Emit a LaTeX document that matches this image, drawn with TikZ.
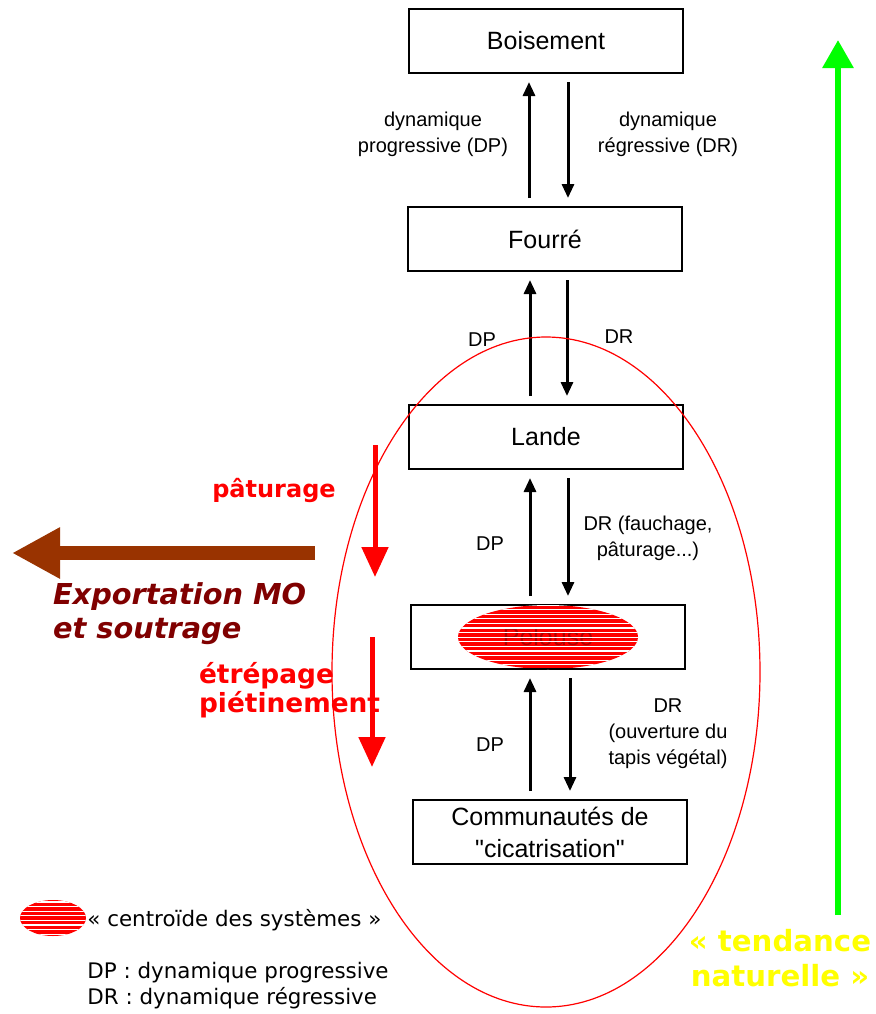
\documentclass[tikz,border=0pt]{standalone}
\usepackage{fontspec}
\setmainfont{Liberation Sans}[Ligatures=TeXOff]
\newfontfamily\verdana{DejaVu Sans}
\usetikzlibrary{arrows.meta}

\definecolor{brique}{RGB}{153,51,0}
\definecolor{bordeaux}{RGB}{128,0,0}
\definecolor{vertvif}{RGB}{0,255,0}
\definecolor{jaunevif}{RGB}{255,255,0}

\tikzset{
  stade/.style={draw, line width=1pt, minimum width=137pt, minimum height=32pt,
    inner sep=0pt, align=center, font=\fontsize{12.5}{16}\selectfont},
  dyn/.style={-{Triangle[length=7pt,width=6pt]}, line width=1.5pt,
    shorten >=4pt, shorten <=4pt},
  etiq/.style={align=center, font=\fontsize{10}{13}\selectfont},
  pression/.style={red, line width=2.5pt, -{Triangle[length=15pt,width=13pt]}},
  fleche rouge/.style={text=red, font=\verdana\bfseries\fontsize{12}{14.5}\selectfont},
}

\begin{document}
\begin{tikzpicture}[x=0.5pt, y=-0.5pt]
		\useasboundingbox (0,0) rectangle (876,1014);

		% stades de la succession
		\node[stade] (boise) at (546,41) {Boisement};
		\node[stade] (fourre) at (545,239) {Fourré};
		\node[stade] (lande) at (546,437) {Lande};
		\fill[red] (548,637) ellipse [x radius=45pt, y radius=16pt];
		\node[stade, text=red!70!black] (pelouse) at (548,637) {Pelouse};
		\begin{scope}
			\clip (548,637) ellipse [x radius=45pt, y radius=16pt];
			\foreach \k in {0,...,14}
				\draw[white, line width=0.6pt] (450,{605+\k*4.6}) -- (650,{605+\k*4.6});
		\end{scope}
		\node[stade] (commun) at (550,832) {Communautés de\\"cicatrisation"};

		% dynamiques
		\draw[dyn] ([xshift=-8pt]fourre.north) -- ([xshift=-8pt]fourre.north |- boise.south);
		\draw[dyn] ([xshift=11pt]boise.south) -- ([xshift=11pt]boise.south |- fourre.north);
		\draw[dyn] ([xshift=-8pt]lande.north) -- ([xshift=-8pt]lande.north |- fourre.south);
		\draw[dyn] ([xshift=11pt]fourre.south) -- ([xshift=11pt]fourre.south |- lande.north);
		\draw[dyn] ([xshift=-9pt]pelouse.north) -- ([xshift=-9pt]pelouse.north |- lande.south);
		\draw[dyn] ([xshift=11pt]lande.south) -- ([xshift=11pt]lande.south |- pelouse.north);
		\draw[dyn] ([xshift=-10pt]commun.north) -- ([xshift=-10pt]commun.north |- pelouse.south);
		\draw[dyn] ([xshift=11pt]pelouse.south) -- ([xshift=11pt]pelouse.south |- commun.north);

		\node[etiq] (dp1) at (433,134) {dynamique\\progressive (DP)};
		\node[etiq] (dr1) at (668,134) {dynamique\\régressive (DR)};
		\node[etiq] (dp2) at (482,340) {DP};
		\node[etiq] (dr2) at (619,337) {DR};
		\node[etiq] (dp3) at (490,544) {DP};
		\node[etiq] (dr3) at (648,538) {DR (fauchage,\\pâturage...)};
		\node[etiq] (dp4) at (490,745) {DP};
		\node[etiq] (dr4) at (668,734) {DR\\(ouverture du\\tapis végétal)};

		% systeme
		\draw[red, line width=0.6pt] (546,672) ellipse [x radius=107pt, y radius=167.5pt];

		% pressions
		\coordinate (pat1) at (375,445);
		\coordinate (pat2) at (375,577);
		\coordinate (etr1) at (372,637);
		\coordinate (etr2) at (372,767);
		\draw[pression] (pat1) -- (pat2);
		\draw[pression] (etr1) -- (etr2);
		\node[fleche rouge] (paturage) at (274,490) {pâturage};
		\node[fleche rouge, anchor=west, align=left, font=\verdana\bfseries\fontsize{13.2}{14.5}\selectfont]
			(etrepage) at (192,690) {étrépage\\piétinement};

		\coordinate (exp1) at (315,553);
		\coordinate (exp2) at (12,553);
		\draw[brique, line width=7pt, -{Triangle[length=24pt,width=24pt]}] (exp1) -- (exp2);
		\node[anchor=west, align=left, text=bordeaux,
			font=\verdana\bfseries\itshape\fontsize{14.4}{17}\selectfont] (export) at (46,614)
			{Exportation MO\\et soutrage};

		% tendance naturelle
		\coordinate (tend1) at (838,915);
		\coordinate (tend2) at (838,40);
		\draw[vertvif, line width=3pt, -{Triangle[length=14pt,width=15pt]}] (tend1) -- (tend2);
		\node[align=center, text=jaunevif,
			font=\verdana\bfseries\fontsize{14.6}{17.5}\selectfont] (tendance) at (780,958)
			{« tendance\\naturelle »};

		% legende
		\fill[red] (53,918) ellipse [x radius=16.5pt, y radius=9pt];
		\begin{scope}
			\clip (53,918) ellipse [x radius=16.5pt, y radius=9pt];
			\foreach \k in {0,...,7}
				\draw[white, line width=0.6pt] (10,{902+\k*4.6}) -- (100,{902+\k*4.6});
		\end{scope}
		\node[anchor=west, font=\verdana\fontsize{10.7}{13}\selectfont, inner sep=0pt] (centroide) at (87,920)
			{« centroïde des systèmes »};
		\node[anchor=west, align=left, font=\verdana\fontsize{10.7}{13}\selectfont, inner sep=0pt] (sigles) at (87,986)
			{DP : dynamique progressive\\DR : dynamique régressive};
	\end{tikzpicture}
\end{document}
